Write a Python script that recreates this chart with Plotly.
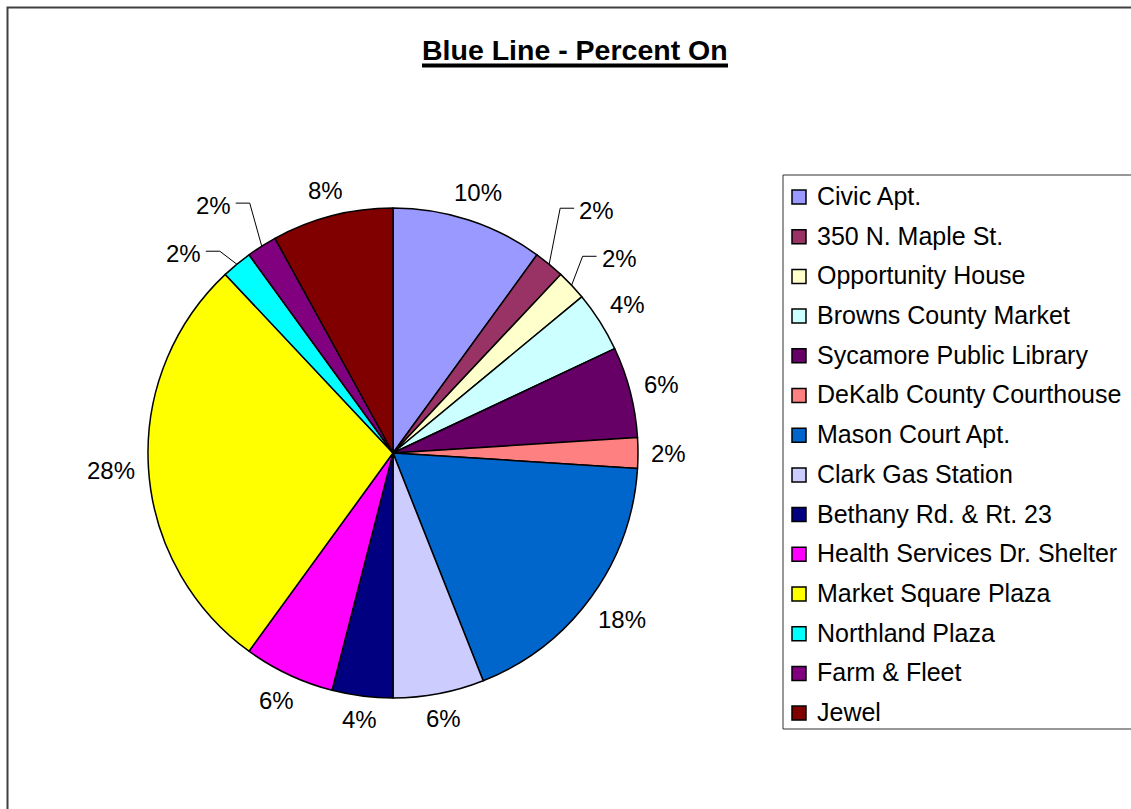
import math
import plotly.graph_objects as go

# Boardings by stop on the Blue Line (percent of all riders getting on)
stops = [
    "Civic Apt.",
    "350 N. Maple St.",
    "Opportunity House",
    "Browns County Market",
    "Sycamore Public Library",
    "DeKalb County Courthouse",
    "Mason Court Apt.",
    "Clark Gas Station",
    "Bethany Rd. & Rt. 23",
    "Health Services Dr. Shelter",
    "Market Square Plaza",
    "Northland Plaza",
    "Farm & Fleet",
    "Jewel",
]
percent_on = [10, 2, 2, 4, 6, 2, 18, 6, 4, 6, 28, 2, 2, 8]

slice_colors = [
    "#9999FF", "#993366", "#FFFFCC", "#CCFFFF", "#660066", "#FF8080", "#0066CC",
    "#CCCCFF", "#000080", "#FF00FF", "#FFFF00", "#00FFFF", "#800080", "#800000",
]

# Canvas and pie geometry (pixels)
W, H = 1131, 809
CX, CY, R = 393, 453, 245
FONT = "Liberation Sans, Arial, sans-serif"
LABEL_SIZE = 24
LEGEND_SIZE = 25

# Small slices whose labels sit off to the side on a leader line (elbow offset from rim)
leader_offsets = {
    "350 N. Maple St.": (11, -56),
    "Opportunity House": (11, -29),
    "Northland Plaza": (-17, -13),
    "Farm & Fleet": (-12, -43),
}


def px(x):
    return x / W


def py(y):
    return 1 - y / H


def text_width(s, size):
    # Approximate Arial advance widths
    widths = {"%": 0.889}
    return sum(widths.get(ch, 0.556) for ch in s) * size


fig = go.Figure(
    go.Pie(
        labels=stops,
        values=percent_on,
        sort=False,
        direction="clockwise",
        rotation=0,
        marker=dict(colors=slice_colors, line=dict(color="black", width=1.5)),
        textinfo="none",
        showlegend=False,
        hoverinfo="label+percent",
        domain=dict(x=[px(CX - R), px(CX + R)], y=[py(CY + R), py(CY - R)]),
    )
)

annotations = []
shapes = []

# Percentage labels around the pie
total = sum(percent_on)
cum = 0
for name, v in zip(stops, percent_on):
    mid = 2 * math.pi * (cum + v / 2) / total
    cum += v
    sx, sy = math.sin(mid), -math.cos(mid)
    label = f"{round(100 * v / total)}%"
    tw = text_width(label, LABEL_SIZE)
    if name in leader_offsets:
        ox, oy = leader_offsets[name]
        ex, ey = CX + R * sx, CY + R * sy
        bx, by = ex + ox, ey + oy
        side = 1 if ox > 0 else -1
        hx = bx + side * 14
        shapes.append(dict(
            type="path", xref="paper", yref="paper",
            path=f"M {px(ex)} {py(ey)} L {px(bx)} {py(by)} L {px(hx)} {py(by)}",
            line=dict(color="black", width=1),
        ))
        annotations.append(dict(
            x=px(hx + side * 3), y=py(by + 2), xref="paper", yref="paper",
            text=label, showarrow=False,
            xanchor="left" if side > 0 else "right", yanchor="middle",
            font=dict(family=FONT, size=LABEL_SIZE, color="black"),
        ))
    else:
        d = R + 13 + (tw / 2) * abs(sx) + 9 * abs(sy)
        annotations.append(dict(
            x=px(CX + d * sx), y=py(CY + d * sy), xref="paper", yref="paper",
            text=label, showarrow=False, xanchor="center", yanchor="middle",
            font=dict(family=FONT, size=LABEL_SIZE, color="black"),
        ))

# Title with a heavy underline
annotations.append(dict(
    x=px(575), y=py(50), xref="paper", yref="paper",
    text="<b>Blue Line - Percent On</b>", showarrow=False,
    xanchor="center", yanchor="middle",
    font=dict(family=FONT, size=28.5, color="black"),
))
shapes.append(dict(
    type="line", xref="paper", yref="paper",
    x0=px(422), x1=px(728), y0=py(65.5), y1=py(65.5),
    line=dict(color="black", width=4),
))

# Outer chart frame
shapes.append(dict(
    type="rect", xref="paper", yref="paper",
    x0=px(7.5), x1=px(W + 20), y0=py(H + 20), y1=py(7.5),
    line=dict(color="#404040", width=2), fillcolor="rgba(0,0,0,0)",
))

# Legend box with swatches
LEG_X0, LEG_Y0, LEG_Y1 = 783, 175, 729
shapes.append(dict(
    type="rect", xref="paper", yref="paper",
    x0=px(LEG_X0), x1=px(W + 20), y0=py(LEG_Y1), y1=py(LEG_Y0),
    line=dict(color="#333333", width=1), fillcolor="white", layer="below",
))
ROW0, ROW_STEP = 197, 39.7
for i, (name, col) in enumerate(zip(stops, slice_colors)):
    yc = ROW0 + i * ROW_STEP
    shapes.append(dict(
        type="rect", xref="paper", yref="paper",
        x0=px(792), x1=px(806), y0=py(yc + 7), y1=py(yc - 7),
        line=dict(color="black", width=1.5), fillcolor=col,
    ))
    annotations.append(dict(
        x=px(815), y=py(yc - 1), xref="paper", yref="paper",
        text=name, showarrow=False, xanchor="left", yanchor="middle",
        font=dict(family=FONT, size=LEGEND_SIZE, color="black"),
    ))

fig.update_layout(
    width=W, height=H,
    margin=dict(l=0, r=0, t=0, b=0),
    paper_bgcolor="white", plot_bgcolor="white",
    showlegend=False,
    annotations=annotations,
    shapes=shapes,
)

fig.write_html("out.html")
